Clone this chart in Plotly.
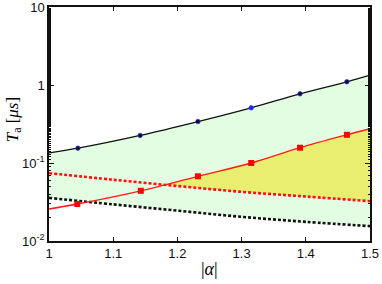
import numpy as np
import plotly.graph_objects as go

# Black solid curve (upper bound) and its markers
alpha_black = [1.0, 1.045, 1.142, 1.232, 1.315, 1.391, 1.464, 1.5]
T_black = [0.135, 0.155, 0.226, 0.34, 0.51, 0.77, 1.1, 1.34]
alpha_black_mk = [1.045, 1.142, 1.232, 1.315, 1.391, 1.464]
T_black_mk = [0.155, 0.226, 0.34, 0.51, 0.77, 1.1]
black_mk_colors = ["#101010", "#101010", "#101010", "#2020ff", "#101010", "#101010"]

# Red solid curve and its markers
alpha_red = [1.0, 1.044, 1.143, 1.232, 1.315, 1.391, 1.464, 1.5]
T_red = [0.0257, 0.0298, 0.044, 0.0675, 0.10, 0.157, 0.23, 0.275]
alpha_red_mk = [1.044, 1.143, 1.232, 1.315, 1.391, 1.464]
T_red_mk = [0.0298, 0.044, 0.0675, 0.10, 0.157, 0.23]

# Dashed curves
alpha_dash = [1.0, 1.1, 1.2, 1.3, 1.4, 1.5]
T_red_dash = [0.074, 0.061, 0.0507, 0.0427, 0.0372, 0.0324]
T_black_dash = [0.0357, 0.0295, 0.0245, 0.0204, 0.0176, 0.0155]

y_tickvals = [0.01, 0.1, 1, 10]
y_ticktext = ["10<sup>-2</sup>", "10<sup>-1</sup>", "1", "10"]
x_tickvals = [1.0, 1.1, 1.2, 1.3, 1.4, 1.5]
x_ticktext = ["1", "1.1", "1.2", "1.3", "1.4", "1.5"]

grid = np.linspace(1.0, 1.5, 301)
def logi(xs, ys):
    return 10 ** np.interp(grid, xs, np.log10(ys))

g_black = logi(alpha_black, T_black)
g_red = logi(alpha_red, T_red)
g_rdash = logi(alpha_dash, T_red_dash)
g_bdash = logi(alpha_dash, T_black_dash)
g_yellow_top = np.maximum(g_red, g_rdash)

fig = go.Figure()
# green region
fig.add_trace(go.Scatter(x=grid, y=g_bdash, mode="lines", line=dict(width=0), showlegend=False, hoverinfo="skip"))
fig.add_trace(go.Scatter(x=grid, y=g_black, mode="lines", line=dict(width=0), fill="tonexty",
                         fillcolor="#e2fde2", showlegend=False, hoverinfo="skip"))
# yellow region
fig.add_trace(go.Scatter(x=grid, y=g_rdash, mode="lines", line=dict(width=0), showlegend=False, hoverinfo="skip"))
fig.add_trace(go.Scatter(x=grid, y=g_yellow_top, mode="lines", line=dict(width=0), fill="tonexty",
                         fillcolor="#e8ee70", showlegend=False, hoverinfo="skip"))
# dashed lines
fig.add_trace(go.Scatter(x=alpha_dash, y=T_black_dash, mode="lines", line=dict(color="#111111", width=2.6, dash="3px,2px", shape="spline"), showlegend=False))
fig.add_trace(go.Scatter(x=alpha_dash, y=T_red_dash, mode="lines", line=dict(color="#ff1010", width=2.6, dash="3px,2px", shape="spline"), showlegend=False))
# solid lines
fig.add_trace(go.Scatter(x=alpha_black, y=T_black, mode="lines", line=dict(color="#111111", width=1.3, shape="spline"), showlegend=False))
fig.add_trace(go.Scatter(x=alpha_red, y=T_red, mode="lines", line=dict(color="#ff1a1a", width=1.3, shape="spline"), showlegend=False))
# markers
fig.add_trace(go.Scatter(x=alpha_black_mk, y=T_black_mk, mode="markers",
                         marker=dict(symbol="circle", size=4.5, color=black_mk_colors, line=dict(color="#3030ff", width=0.7)), showlegend=False))
fig.add_trace(go.Scatter(x=alpha_red_mk, y=T_red_mk, mode="markers",
                         marker=dict(symbol="square", size=6, color="#ff0000", line=dict(width=0)), showlegend=False))

axis_font = dict(family="Liberation Sans, Arial, sans-serif", size=13, color="#111111")
title_font = dict(family="Liberation Serif, Times New Roman, serif", size=18, color="#000000")
fig.update_layout(
    width=382, height=284,
    margin=dict(l=49, r=12, t=7, b=43, autoexpand=False),
    paper_bgcolor="white", plot_bgcolor="white",
    hovermode=False,
    xaxis=dict(range=[1.0, 1.5], tickvals=x_tickvals, ticktext=x_ticktext, ticks="inside", ticklen=4,
               tickcolor="#111111", showline=True, linecolor="#111111", linewidth=1.5, mirror="allticks",
               showgrid=False, zeroline=False, tickfont=axis_font, automargin=False, ticklabeloverflow="allow"),
    yaxis=dict(type="log", range=[-2, 1], tickvals=y_tickvals, ticktext=y_ticktext, ticks="inside", ticklen=5,
               tickcolor="#111111", showline=True, linecolor="#111111", linewidth=1.5, mirror="allticks",
               showgrid=False, zeroline=False, tickfont=axis_font, automargin=False, ticklabeloverflow="allow",
               minor=dict(ticks="inside", ticklen=2.5, tickcolor="#111111", showgrid=False)),
    annotations=[
        dict(text="|<i>α</i>|", xref="paper", yref="paper", x=0.5, y=-0.068, xanchor="center", yanchor="top",
             showarrow=False, font=title_font),
        dict(text="<i>T</i><sub>a</sub> [<i>μs</i>]", xref="paper", x=-0.109, xanchor="center",
             yref="paper", y=0.52, yanchor="middle", textangle=-90, showarrow=False,
             font=dict(family="Liberation Serif, Times New Roman, serif", size=17, color="#000000")),
    ],
)
fig.write_html("out.html", config={"displayModeBar": False},
               post_script="document.body.style.margin='0';document.body.style.padding='0';")
